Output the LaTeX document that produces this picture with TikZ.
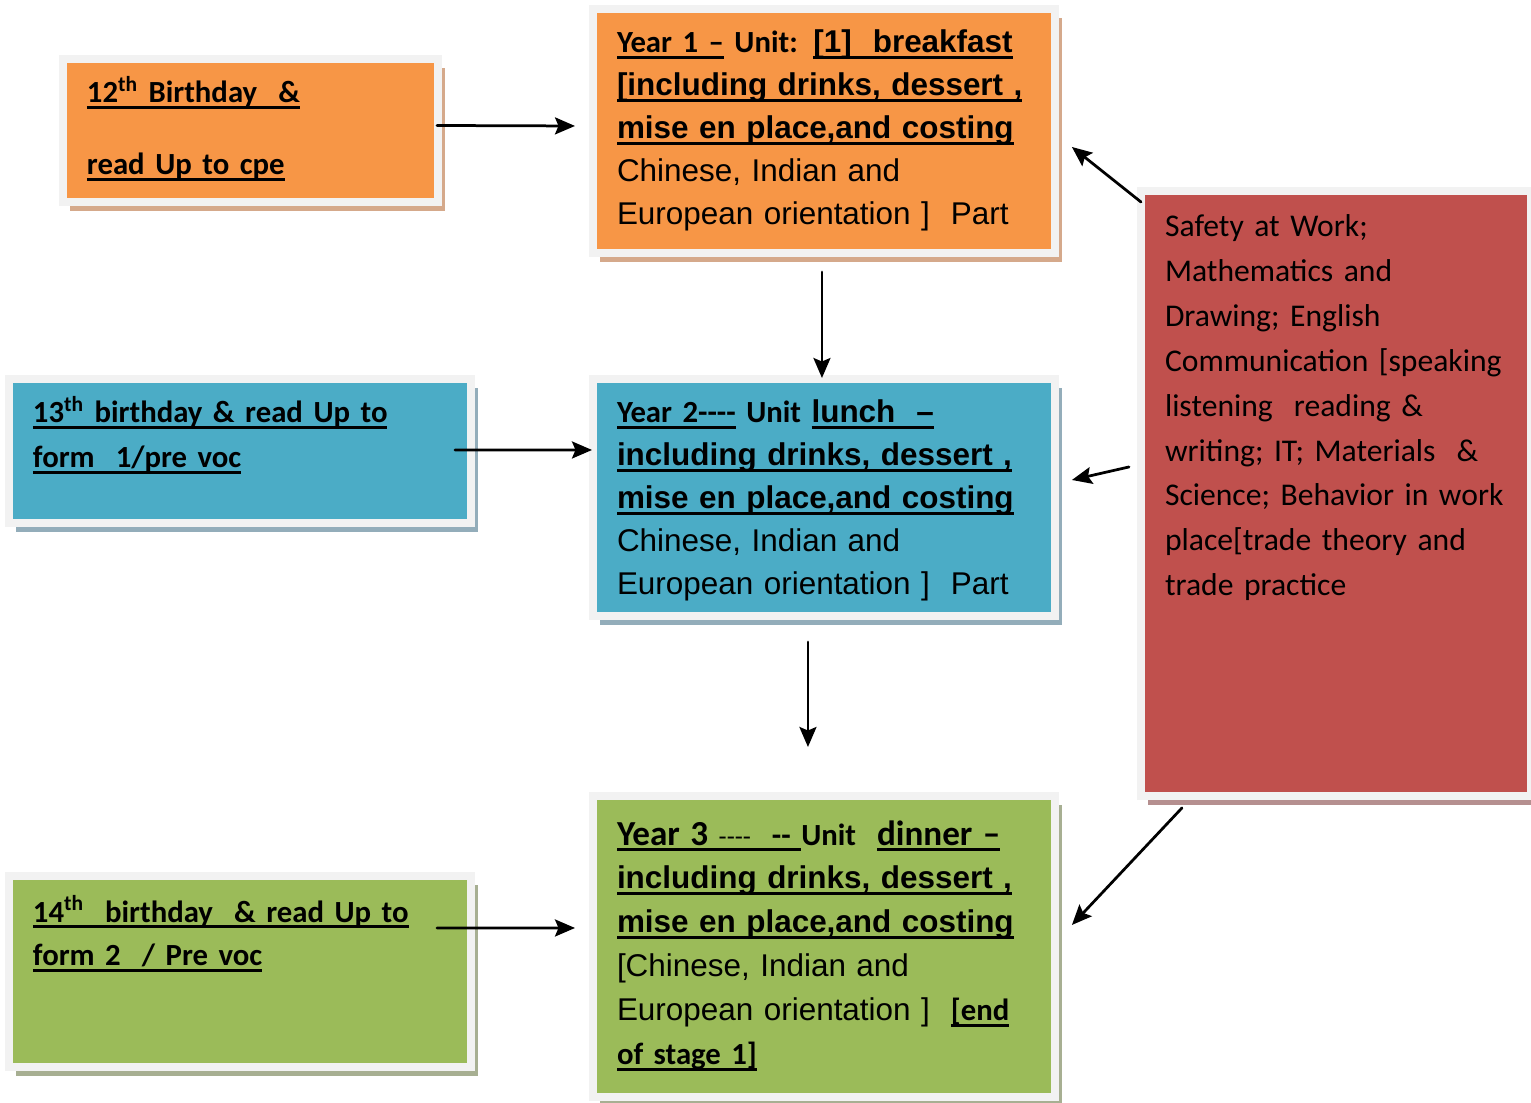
\documentclass[tikz,border=0pt]{standalone}
\usepackage{fontspec}
\setmainfont{Liberation Sans}
\newfontfamily\calib{Carlito}[WordSpace=0.88]
\usetikzlibrary{arrows.meta,calc,shadows}

\definecolor{orangecard}{HTML}{F79646}
\definecolor{orangeshade}{HTML}{D5A98B}
\definecolor{bluecard}{HTML}{4BACC6}
\definecolor{blueshade}{HTML}{93ADBA}
\definecolor{greencard}{HTML}{9BBB59}
\definecolor{greenshade}{HTML}{A7AF92}
\definecolor{redcard}{HTML}{C0504D}
\definecolor{redshade}{HTML}{B58F8F}
\definecolor{cardframe}{HTML}{F2F2F2}

\newcommand{\calbold}{\calib\bfseries\fontsize{17.5pt}{24pt}\selectfont}
\newcommand{\calbig}{\calib\bfseries\fontsize{20pt}{24pt}\selectfont}
\newcommand{\calsmall}{\calib\mdseries\fontsize{15pt}{24pt}\selectfont}
\newcommand{\arbold}{\bfseries\fontsize{17.9pt}{24pt}\selectfont}
\newsavebox{\undlbox}
\newcommand{\undl}[1]{\leavevmode\sbox{\undlbox}{#1}%
  \rlap{\vrule height -1.7pt depth 3.4pt width \wd\undlbox}\usebox{\undlbox}}

\begin{document}
\begin{tikzpicture}[
    x=0.02cm, y=-0.02cm,
    card/.style={draw=cardframe, line width=0.16cm, fill=#1card, outer sep=0pt,
                 anchor=north west, align=left, inner xsep=0.48cm, inner ysep=0.08cm,
                 text height=0.8cm,
                 general shadow={fill=#1shade, shadow xshift=0.14cm, shadow yshift=-0.18cm}},
    arrow/.style={line width=0.055cm, line cap=round, arrows={-Stealth[length=0.4cm, width=0.34cm, inset=0.07cm]}}
]
\useasboundingbox (0,0) rectangle (1531,1102);

% 1) Birthday boxes (left column)
\node[card=orange, text width=6.54cm, text depth=1.9cm,
      font=\fontsize{18pt}{40.8pt}\selectfont] (bday12) at (63,59)
  {\begin{tabular}[t]{@{}l@{}}
   {\calbold\undl{12\textsuperscript{th} Birthday\ \ \&}}\\
   {\calbold\undl{read Up to cpe}}
   \end{tabular}};

\node[card=blue, text width=8.28cm, text depth=1.92cm,
      font=\fontsize{18pt}{25.5pt}\selectfont] (bday13) at (9,379)
  {\begin{tabular}[t]{@{}l@{}}
   {\calbold\undl{13\textsuperscript{th} birthday \& read Up to}}\\
   {\calbold\undl{form\ \ 1/pre voc}}
   \end{tabular}};

\node[card=green, text width=8.28cm, text height=0.84cm, text depth=2.82cm,
      font=\fontsize{18pt}{25pt}\selectfont] (bday14) at (9,876)
  {\begin{tabular}[t]{@{}l@{}}
   {\calbold\undl{14\textsuperscript{th}\ \ birthday\ \ \& read Up to}}\\
   {\calbold\undl{form 2\ \ / Pre voc}}
   \end{tabular}};

% 2) Year units (middle column)
\node[card=orange, text width=8.28cm, text depth=3.92cm,
      font=\fontsize{17.9pt}{24.4pt}\selectfont] (year1) at (593,9)
  {\begin{tabular}[t]{@{}l@{}}
   {\calbold\undl{Year 1 –} Unit:} {\arbold\undl{[1]\ \ breakfast}}\\
   {\arbold\undl{[including drinks, dessert ,}}\\
   {\arbold\undl{mise en place,and costing}}\\
   Chinese, Indian and\\
   European orientation ]\ \ Part
   \end{tabular}};

\node[card=blue, text width=8.28cm, text depth=3.78cm,
      font=\fontsize{17.9pt}{24.4pt}\selectfont] (year2) at (593,379)
  {\begin{tabular}[t]{@{}l@{}}
   {\calbold\undl{Year 2-{}-{}-{}-} Unit} {\arbold\undl{lunch\ \ –}}\\
   {\arbold\undl{including drinks, dessert ,}}\\
   {\arbold\undl{mise en place,and costing}}\\
   Chinese, Indian and\\
   European orientation ]\ \ Part
   \end{tabular}};

\node[card=green, text width=8.28cm, text height=0.9cm, text depth=4.96cm,
      font=\fontsize{17.9pt}{25pt}\selectfont] (year3) at (593,796)
  {\begin{tabular}[t]{@{}l@{}}
   {\calbig\undl{Year 3 {\calsmall -{}-{}-{}-}\ \ {\calbold -{}-}\ }}{\calbold Unit}\ \ {\calbig\undl{dinner –}}\\
   {\arbold\undl{including drinks, dessert ,}}\\
   {\arbold\undl{mise en place,and costing}}\\
   {[}Chinese, Indian and\\
   European orientation ]\ \ {\calbold\undl{[end}}\\
   {\calbold\undl{of stage 1]}}
   \end{tabular}};

% 3) Subjects (right column)
\node[card=red, text width=6.84cm, text height=0.84cm, text depth=11.1cm,
      font=\calib\fontsize{18pt}{25.5pt}\selectfont] (skills) at (1141,191)
  {\begin{tabular}[t]{@{}l@{}}
   Safety at Work;\\
   Mathematics and\\
   Drawing; English\\
   Communication [speaking\\
   listening\ \ reading \&\\
   writing; IT; Materials\ \ \&\\
   Science; Behavior in work\\
   place[trade theory and\\
   trade practice
   \end{tabular}};

% 4) Arrows
\draw[arrow] ([shift={(-1,-5)}]bday12.east) -- ([shift={(-18,-5)}]year1.west);
\draw[arrow] ([shift={(-16,-1)}]bday13.east) -- ([shift={(-1,-47.5)}]year2.west);
\draw[arrow] ([shift={(-34,-43.5)}]bday14.east) -- ([shift={(-18,-18.5)}]year3.west);

\draw[arrow] ([shift={(-2,19)}]year1.south) -- ([shift={(-2,-1)}]year2.north);
\draw[arrow] ([shift={(-16,26)}]year2.south) -- ([shift={(-16,-49)}]year3.north);

\draw[arrow] ([shift={(0,11)}]skills.north west) -- ([shift={(17,16)}]year1.east);
\draw[arrow] ([shift={(-12,-26.5)}]skills.west) -- ([shift={(17,-17.5)}]year2.east);
\draw[arrow] ([shift={(41,12)}]skills.south west) -- ([shift={(17,-21.5)}]year3.east);
\end{tikzpicture}
\end{document}
